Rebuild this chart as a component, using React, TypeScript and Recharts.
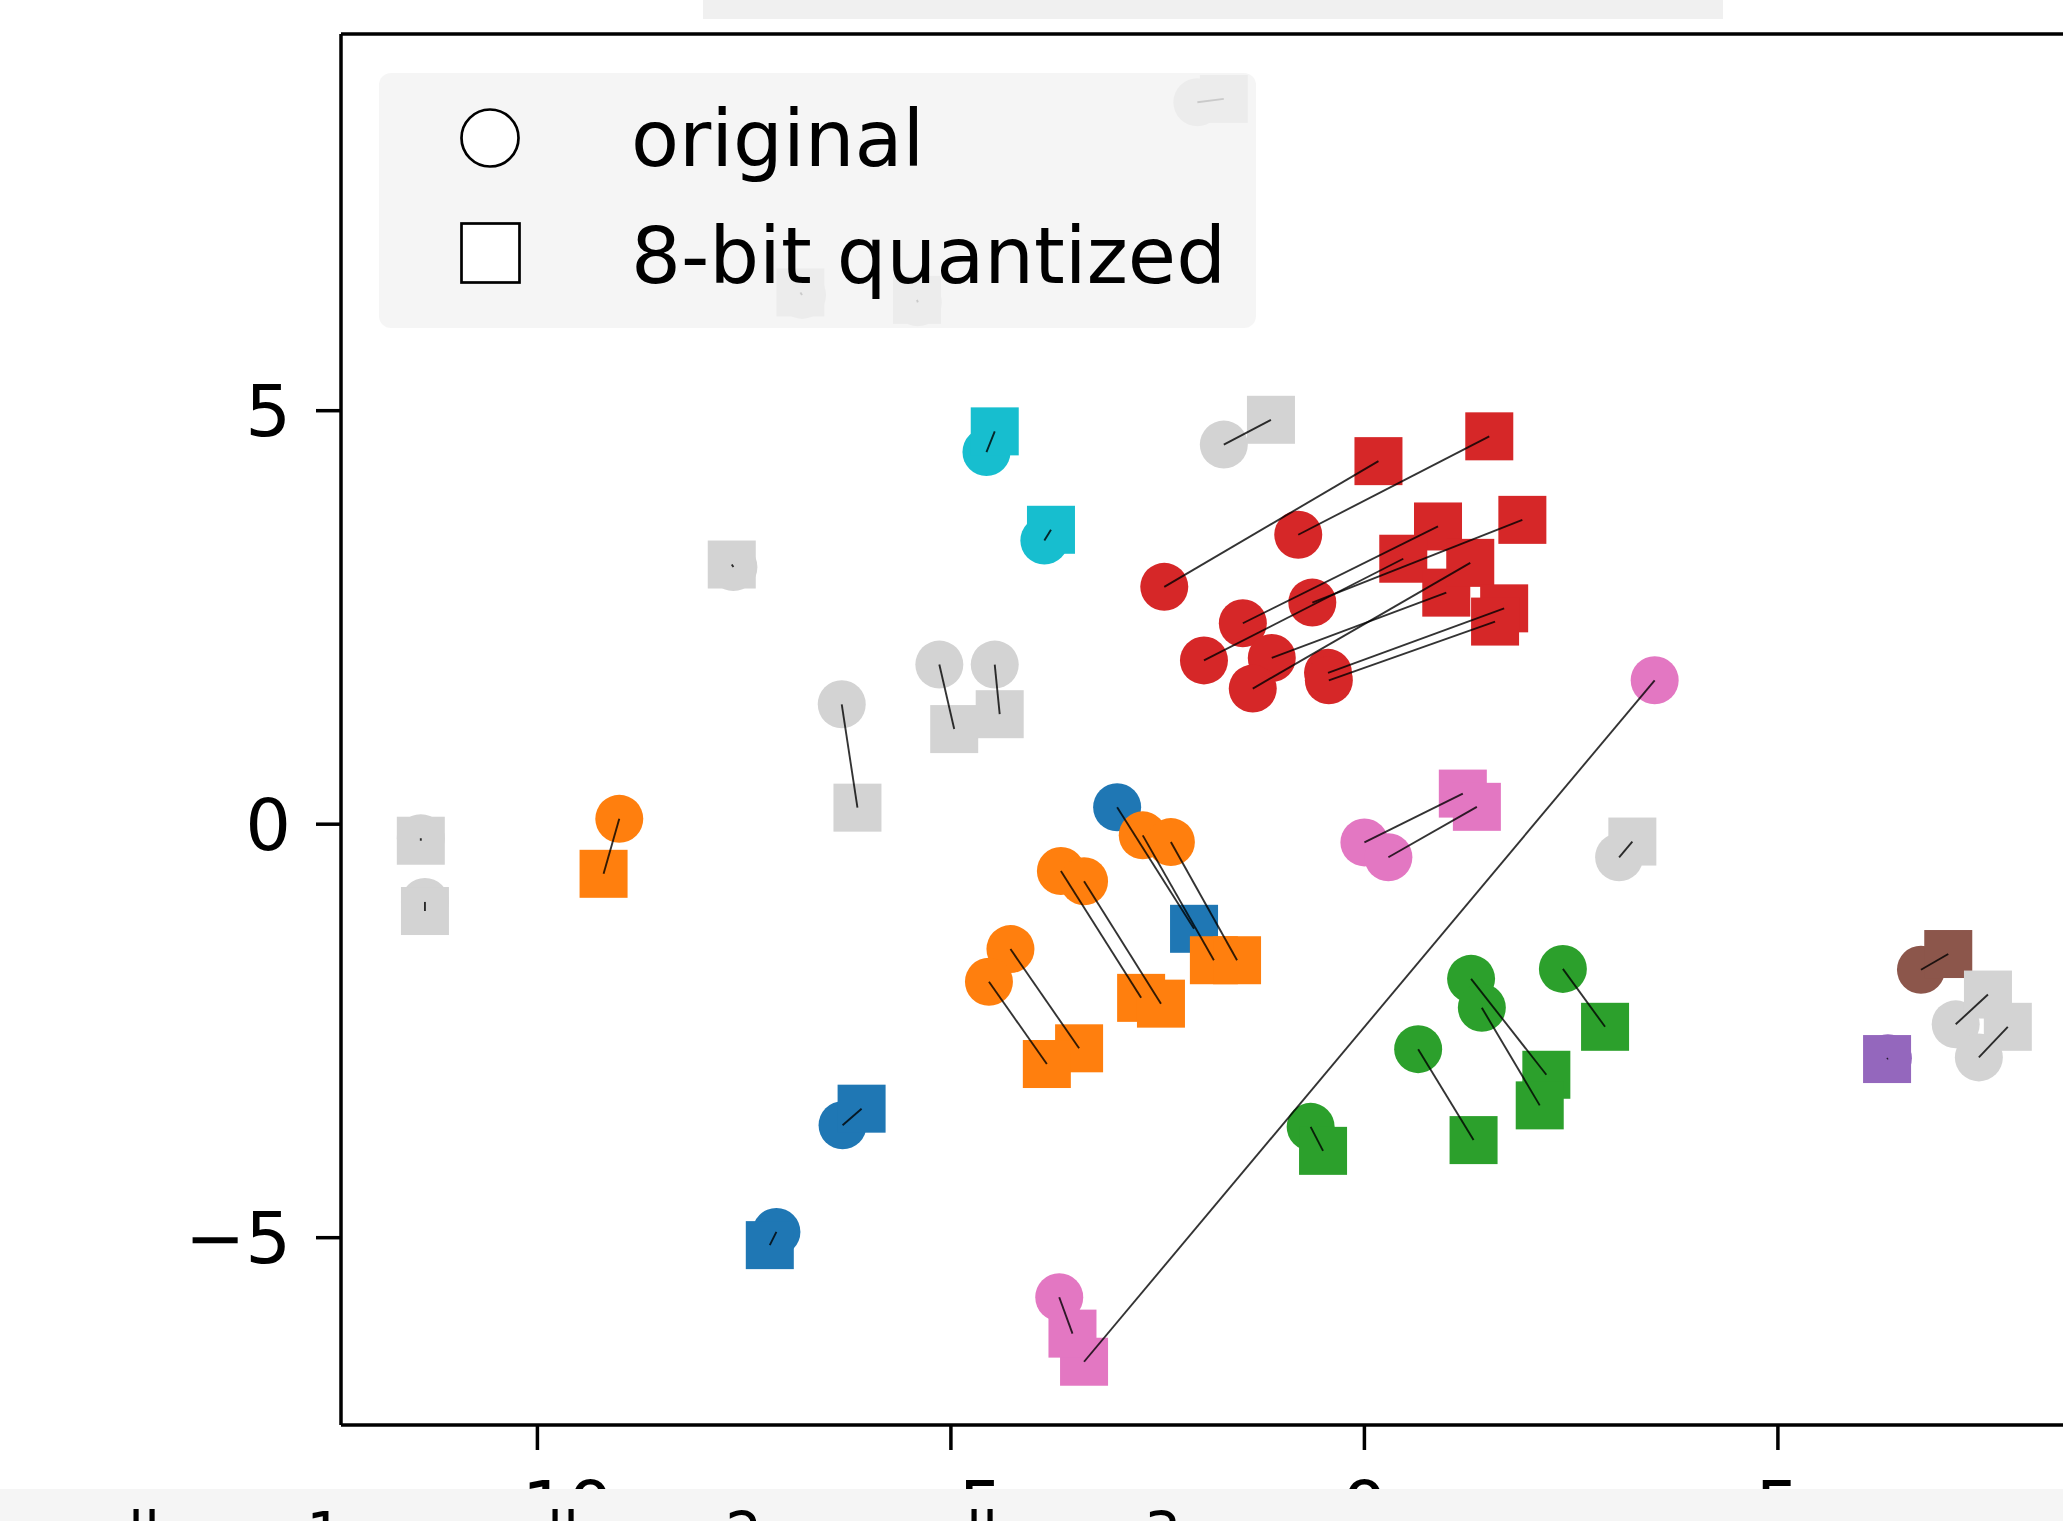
import React from "react";
import { ScatterChart, Scatter, XAxis, YAxis, ReferenceLine } from "recharts";

type Pt = [number, number];

// original embedding position -> 8-bit quantized position, same order in both arrays
const blueOriginal: Pt[] = [[-2.99, 0.205], [-6.31, -3.64], [-7.11, -4.93]];
const blueQuantized: Pt[] = [[-2.06, -1.265], [-6.08, -3.44], [-7.19, -5.09]];

const orangeOriginal: Pt[] = [[-9.01, 0.065], [-2.68, -0.135], [-2.34, -0.216], [-3.67, -0.566], [-3.39, -0.69], [-4.28, -1.51], [-4.54, -1.905]];
const orangeQuantized: Pt[] = [[-9.2, -0.6], [-1.82, -1.645], [-1.54, -1.645], [-2.7, -2.1], [-2.46, -2.17], [-3.45, -2.71], [-3.84, -2.9]];

const greenOriginal: Pt[] = [[1.29, -1.87], [1.42, -2.22], [2.4, -1.75], [0.65, -2.72], [-0.65, -3.66]];
const greenQuantized: Pt[] = [[2.2, -3.03], [2.12, -3.4], [2.91, -2.45], [1.32, -3.82], [-0.5, -3.95]];

const redOriginal: Pt[] = [[-2.42, 2.87], [-0.8, 3.5], [-1.47, 2.43], [-0.63, 2.68], [-1.94, 1.98], [-1.12, 2.01], [-1.35, 1.64], [-0.44, 1.83], [-0.43, 1.74]];
const redQuantized: Pt[] = [[0.17, 4.39], [1.51, 4.69], [0.89, 3.6], [1.91, 3.68], [0.47, 3.21], [0.99, 2.8], [1.28, 3.16], [1.69, 2.61], [1.58, 2.45]];

const purpleOriginal: Pt[] = [[6.33, -2.83]];
const purpleQuantized: Pt[] = [[6.32, -2.84]];

const brownOriginal: Pt[] = [[6.73, -1.76]];
const brownQuantized: Pt[] = [[7.06, -1.57]];

const pinkOriginal: Pt[] = [[3.51, 1.74], [-3.69, -5.72], [0.0, -0.22], [0.29, -0.4]];
const pinkQuantized: Pt[] = [[-3.39, -6.5], [-3.53, -6.16], [1.19, 0.37], [1.36, 0.21]];

const cyanOriginal: Pt[] = [[-4.57, 4.5], [-3.87, 3.43]];
const cyanQuantized: Pt[] = [[-4.47, 4.75], [-3.79, 3.56]];

const grayOriginal: Pt[] = [[-2.02, 8.73], [-6.8, 6.4], [-5.4, 6.31], [-7.63, 3.11], [-6.32, 1.45], [-5.14, 1.93], [-4.47, 1.93], [-1.7, 4.59], [-11.41, -0.17], [-11.36, -0.94], [3.08, -0.4], [7.15, -2.42], [7.43, -2.82]];
const grayQuantized: Pt[] = [[-1.7, 8.77], [-6.82, 6.43], [-5.41, 6.34], [-7.65, 3.14], [-6.13, 0.2], [-4.96, 1.15], [-4.41, 1.33], [-1.13, 4.89], [-11.41, -0.2], [-11.36, -1.05], [3.24, -0.21], [7.54, -2.06], [7.78, -2.45]];

const X_DOMAIN: [number, number] = [-12.375, 9.705];
const Y_DOMAIN: [number, number] = [-7.265, 9.555];
const X_TICKS = [-10, -5, 0, 5];
const Y_TICKS = [-5, 0, 5];

const LEGEND_LABELS = ["original", "8-bit quantized"];
const BOTTOM_LABELS = ["llama 1", "llama 2", "llama 3"];

const clusters = [
  { name: "blue", color: "#1f77b4", original: blueOriginal, quantized: blueQuantized },
  { name: "orange", color: "#ff7f0e", original: orangeOriginal, quantized: orangeQuantized },
  { name: "green", color: "#2ca02c", original: greenOriginal, quantized: greenQuantized },
  { name: "red", color: "#d62728", original: redOriginal, quantized: redQuantized },
  { name: "purple", color: "#9467bd", original: purpleOriginal, quantized: purpleQuantized },
  { name: "brown", color: "#8c564b", original: brownOriginal, quantized: brownQuantized },
  { name: "pink", color: "#e377c2", original: pinkOriginal, quantized: pinkQuantized },
  { name: "cyan", color: "#17becf", original: cyanOriginal, quantized: cyanQuantized },
  { name: "gray", color: "#d3d3d3", original: grayOriginal, quantized: grayQuantized },
];

const FONT = "DejaVu Sans";
const MARKER = 48;

const toPoints = (pts: Pt[]) => pts.map(([x, y]) => ({ x, y }));
const fmt = (v: number) => (v < 0 ? `\u2212${Math.abs(v)}` : `${v}`);

const circleShape = (color: string) => (p: any) => <circle cx={p.cx} cy={p.cy} r={MARKER / 2} fill={color} />;
const squareShape = (color: string) => (p: any) => (
  <rect x={p.cx - MARKER / 2} y={p.cy - MARKER / 2} width={MARKER} height={MARKER} fill={color} />
);
const noShape = () => <g />;

const axisStroke = { stroke: "#000", strokeWidth: 3.5 };
const tickStyle = { fill: "#000", fontSize: 72, fontFamily: FONT };

export default function App() {
  const pairs = clusters.flatMap((c) =>
    c.original.map((o, i) => ({ key: `${c.name}-${i}`, data: toPoints([o, c.quantized[i]]) }))
  );

  return (
    <div style={{ position: "absolute", left: 0, top: 0, width: 2063, height: 1521, overflow: "hidden", background: "#fff" }}>
      <div style={{ position: "absolute", left: 0, top: 0 }}>
        <ScatterChart width={2167} height={1521} margin={{ top: 34, right: 0, bottom: 0, left: 0 }}>
          <XAxis
            type="number"
            dataKey="x"
            domain={X_DOMAIN}
            allowDataOverflow
            ticks={X_TICKS}
            interval={0}
            tickFormatter={fmt}
            height={96}
            tickSize={25}
            tickMargin={31}
            axisLine={axisStroke}
            tickLine={axisStroke}
            tick={tickStyle}
          />
          <YAxis
            type="number"
            dataKey="y"
            domain={Y_DOMAIN}
            allowDataOverflow
            ticks={Y_TICKS}
            interval={0}
            tickFormatter={fmt}
            width={341}
            tickSize={25}
            tickMargin={25}
            axisLine={axisStroke}
            tickLine={axisStroke}
            tick={tickStyle}
          />
          {/* top spine */}
          <ReferenceLine y={Y_DOMAIN[1]} stroke="#000" strokeWidth={3.5} ifOverflow="visible" />
          {clusters.map((c) => (
            <Scatter
              key={`o-${c.name}`}
              data={toPoints(c.original)}
              fill={c.color}
              shape={circleShape(c.color)}
              isAnimationActive={false}
            />
          ))}
          {clusters.map((c) => (
            <Scatter
              key={`q-${c.name}`}
              data={toPoints(c.quantized)}
              fill={c.color}
              shape={squareShape(c.color)}
              isAnimationActive={false}
            />
          ))}
          {pairs.map((p) => (
            <Scatter
              key={`l-${p.key}`}
              data={p.data}
              fill="none"
              shape={noShape}
              line={{ stroke: "#000", strokeWidth: 1.9, strokeOpacity: 0.8 }}
              isAnimationActive={false}
            />
          ))}
        </ScatterChart>
      </div>
      <svg width={2063} height={1521} style={{ position: "absolute", left: 0, top: 0, pointerEvents: "none" }}>
        <rect x={703} y={0} width={1020} height={19} fill="#f0f0f0" />
        <rect x={379} y={73} width={877} height={255} rx={12} fill="rgb(243,243,243)" fillOpacity={0.8} />
        <circle cx={490} cy={138} r={28.5} fill="#fff" stroke="#000" strokeWidth={2.7} />
        <rect x={461.5} y={223.5} width={58} height={59} fill="#fff" stroke="#000" strokeWidth={2.7} />
        <text x={631} y={166} fontSize={78.5} fontFamily={FONT} fill="#000">{LEGEND_LABELS[0]}</text>
        <text x={631} y={283} fontSize={78.5} fontFamily={FONT} fill="#000">{LEGEND_LABELS[1]}</text>
        <rect x={0} y={1489} width={2063} height={32} fill="#f5f5f5" />
        {BOTTOM_LABELS.map((t, i) => (
          <text key={t} x={128 + i * 419} y={1554} fontSize={58} fontFamily={FONT} fill="#000">{t}</text>
        ))}
      </svg>
    </div>
  );
}
